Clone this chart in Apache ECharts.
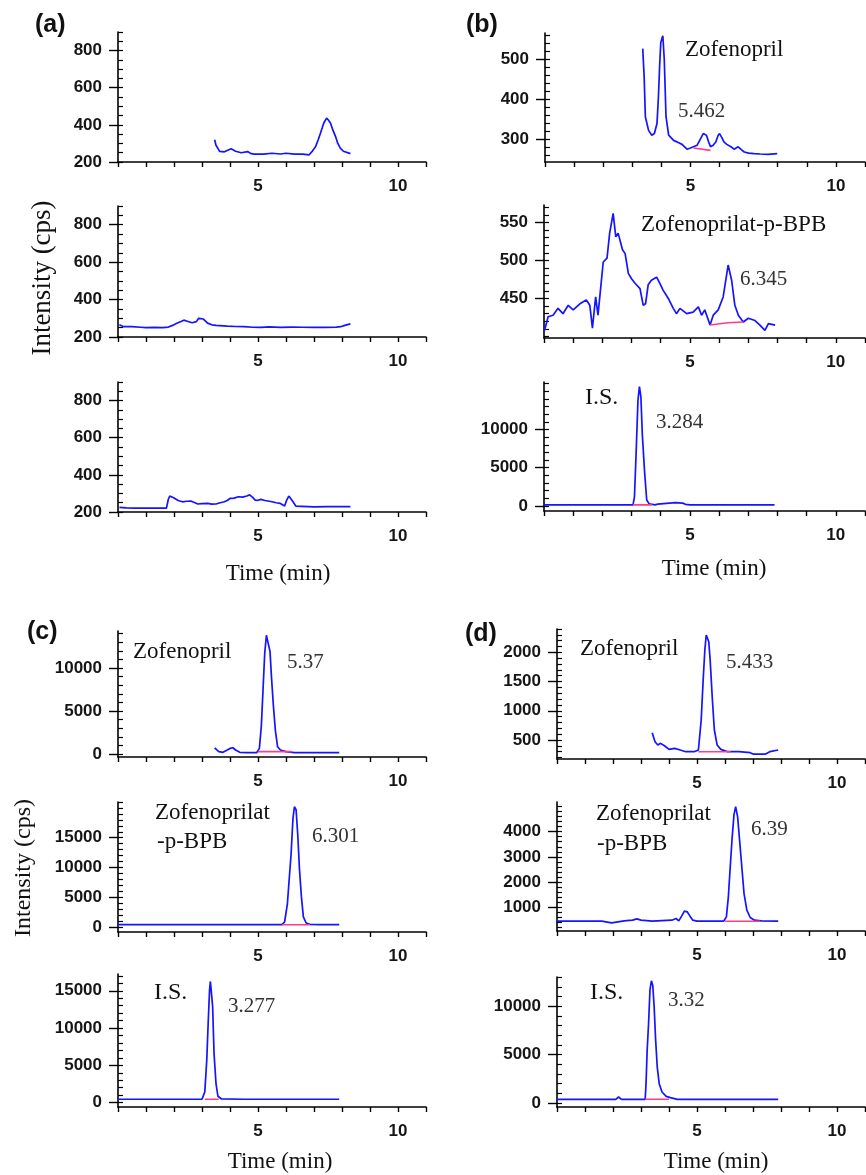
<!DOCTYPE html>
<html><head><meta charset="utf-8">
<script src="https://cdn.jsdelivr.net/npm/echarts@6/dist/echarts.min.js"></script>
<style>html,body{margin:0;padding:0;background:#fff}#c{width:866px;height:1175px}</style>
</head><body><div id="c"></div>
<script>
// ---------- data (time in min, intensity in cps) ----------
const X_LABELS = [5, 10];

const A_TICKS = [200, 400, 600, 800];
const B1_TICKS = [300, 400, 500];
const B2_TICKS = [450, 500, 550];
const B3_TICKS = [0, 5000, 10000];
const C1_TICKS = [0, 5000, 10000];
const C2_TICKS = [0, 5000, 10000, 15000];
const C3_TICKS = [0, 5000, 10000, 15000];
const D1_TICKS = [500, 1000, 1500, 2000];
const D2_TICKS = [1000, 2000, 3000, 4000];
const D3_TICKS = [0, 5000, 10000];

const a1Trace = [[3.45,320],[3.5,290],[3.63,257],[3.8,255],[4.04,271],[4.2,258],[4.4,250],[4.63,256],[4.75,245],[4.87,242],[5.2,242],[5.5,247],[5.8,243],[6.0,247],[6.3,242],[6.6,242],[6.82,238],[6.95,260],[7.06,284],[7.15,320],[7.23,355],[7.35,410],[7.45,436],[7.52,425],[7.59,409],[7.68,370],[7.77,337],[7.85,300],[7.94,275],[8.05,258],[8.12,252],[8.3,245]];
const a2Trace = [[0.05,265],[0.2,255],[0.5,255],[0.8,252],[1.0,250],[1.3,251],[1.6,250],[1.8,253],[1.95,262],[2.1,273],[2.25,283],[2.35,290],[2.5,283],[2.65,276],[2.8,282],[2.88,300],[2.95,305],[3.05,296],[3.2,274],[3.35,265],[3.5,262],[3.9,258],[4.2,256],[4.5,255],[4.8,252],[5.1,251],[5.4,254],[5.8,251],[6.2,253],[6.6,252],[7.0,251],[7.4,251],[7.8,253],[7.95,255],[8.1,262],[8.3,270]];
const a3Trace = [[0.05,225],[0.3,222],[0.6,221],[1.0,221],[1.4,221],[1.73,221],[1.8,270],[1.85,286],[2.0,275],[2.15,262],[2.3,255],[2.45,258],[2.6,259],[2.75,250],[2.85,243],[3.0,245],[3.2,246],[3.35,242],[3.5,243],[3.65,250],[3.8,255],[3.9,262],[4.0,273],[4.15,275],[4.3,282],[4.45,280],[4.6,286],[4.7,292],[4.8,280],[4.9,264],[5.0,263],[5.1,268],[5.25,262],[5.5,255],[5.65,250],[5.8,246],[5.95,232],[6.02,262],[6.1,286],[6.18,270],[6.25,255],[6.35,232],[6.4,229],[7.0,228],[7.5,229],[8.3,229]];

const b1Trace = [[3.36,527],[3.41,454],[3.45,357],[3.56,323],[3.67,311],[3.76,315],[3.85,340],[3.9,408],[3.94,483],[3.98,542],[4.05,559],[4.1,500],[4.16,357],[4.25,311],[4.42,298],[4.6,292],[4.71,288],[4.88,276],[5.0,279],[5.1,282],[5.23,286],[5.33,300],[5.44,315],[5.55,311],[5.62,295],[5.69,282],[5.78,286],[5.87,294],[5.95,310],[6.0,315],[6.08,305],[6.15,294],[6.25,288],[6.39,282],[6.5,276],[6.56,273],[6.64,282],[6.75,275],[6.85,269],[7.0,266],[7.19,265],[7.4,264],[7.66,263],[7.98,265]];
const b1Base = [[5.1,279],[5.69,273]];
const b2Trace = [[0.02,408],[0.14,426],[0.31,428],[0.48,437],[0.65,430],[0.83,441],[1.0,435],[1.23,443],[1.45,448],[1.57,441],[1.66,411],[1.77,452],[1.85,428],[1.91,430],[2.03,498],[2.16,503],[2.25,536],[2.37,562],[2.46,531],[2.54,536],[2.69,514],[2.78,509],[2.89,483],[3.0,476],[3.12,470],[3.29,463],[3.4,441],[3.48,443],[3.57,468],[3.68,474],[3.86,478],[3.97,470],[4.08,461],[4.26,450],[4.43,437],[4.54,430],[4.66,437],[4.89,430],[5.11,432],[5.29,439],[5.4,428],[5.51,435],[5.69,415],[5.8,428],[5.97,435],[6.14,452],[6.31,494],[6.43,474],[6.54,441],[6.66,428],[6.83,419],[7.0,424],[7.23,421],[7.4,415],[7.57,408],[7.69,417],[7.92,415]];
const b2Base = [[5.69,415],[6.3,418],[6.83,419]];
const b3Trace = [[0,150],[1.0,150],[2.0,150],[3.05,150],[3.1,1200],[3.15,6200],[3.22,13800],[3.27,15600],[3.32,14300],[3.37,9300],[3.45,4300],[3.52,780],[3.6,300],[3.8,150],[3.9,250],[3.95,435],[4.5,435],[4.75,380],[4.85,220],[5.0,150],[6.0,150],[7.0,150],[7.9,150]];
const b3Base = [[3.05,150],[3.7,150]];

const c1Trace = [[3.45,725],[3.6,270],[3.75,190],[3.9,460],[4.0,650],[4.1,725],[4.2,460],[4.35,190],[4.6,150],[4.95,150],[5.05,650],[5.12,3300],[5.18,7500],[5.24,11700],[5.3,13800],[5.37,13600],[5.43,11900],[5.48,9000],[5.55,5600],[5.62,2750],[5.7,840],[5.8,460],[6.0,270],[6.3,150],[7.0,150],[7.9,150]];
const c1Base = [[5.0,270],[6.2,270]];
const c2Trace = [[0,390],[2,390],[4,390],[5.85,390],[5.95,840],[6.05,3900],[6.12,8400],[6.18,12100],[6.25,18300],[6.3,20200],[6.36,19700],[6.42,15500],[6.48,9800],[6.55,5100],[6.62,1700],[6.72,670],[6.85,450],[7.2,390],[7.9,390]];
const c2Base = [[5.85,390],[6.85,390]];
const c3Trace = [[0,450],[1.6,450],[1.65,225],[1.7,450],[3.0,450],[3.1,1440],[3.17,5700],[3.22,10600],[3.27,15100],[3.3,16250],[3.34,16000],[3.38,12900],[3.43,6600],[3.5,2560],[3.57,850],[3.7,490],[4.5,450],[7.9,450]];
const c3Base = [[3.1,450],[3.6,450]];

const d1Trace = [[3.4,625],[3.5,471],[3.6,414],[3.7,443],[3.85,397],[4.0,340],[4.2,357],[4.4,329],[4.6,300],[4.9,300],[5.05,329],[5.15,842],[5.22,1527],[5.28,2040],[5.33,2297],[5.38,2314],[5.42,2183],[5.47,1870],[5.55,1185],[5.62,671],[5.72,414],[5.85,340],[6.1,300],[6.5,300],[6.9,283],[7.0,260],[7.45,260],[7.6,300],[7.9,329]];
const d1Base = [[5.05,300],[6.2,300]];
const d2Trace = [[0,458],[1.6,458],[1.65,392],[1.95,392],[2.0,432],[2.4,472],[2.7,498],[2.85,551],[3.0,498],[3.4,458],[4.1,498],[4.25,564],[4.35,472],[4.45,657],[4.55,855],[4.65,828],[4.75,657],[4.85,498],[5.0,458],[5.95,458],[6.05,630],[6.12,1420],[6.18,2480],[6.25,3670],[6.32,4660],[6.38,4990],[6.45,4590],[6.52,3670],[6.6,2610],[6.68,1550],[6.78,894],[6.9,604],[7.05,498],[7.3,472],[7.9,458]];
const d2Base = [[6.0,458],[7.25,458]];
const d3Trace = [[0,380],[2.1,380],[2.2,620],[2.3,380],[3.15,380],[3.18,2000],[3.22,5450],[3.27,8200],[3.32,11660],[3.37,12630],[3.42,12180],[3.47,9940],[3.52,6660],[3.58,3730],[3.65,2000],[3.75,1140],[3.9,690],[4.05,550],[4.3,380],[7.9,380]];
const d3Base = [[3.15,380],[4.0,380]];

// ---------- layout ----------
const panels = [
  {box:[118,32,308,130],  y:[200,900],   ticks:A_TICKS,  minor:50,   trace:a1Trace, base:null},
  {box:[118,206,308,131], y:[200,900],   ticks:A_TICKS,  minor:50,   trace:a2Trace, base:null},
  {box:[118,382,308,130], y:[200,900],   ticks:A_TICKS,  minor:50,   trace:a3Trace, base:null},
  {box:[545,33,320,129],  y:[244,566],   ticks:B1_TICKS, minor:20,   trace:b1Trace, base:b1Base},
  {box:[544,205,321,133], y:[398,573],   ticks:B2_TICKS, minor:10,   trace:b2Trace, base:b2Base},
  {box:[544,382,321,129], y:[-650,16200],ticks:B3_TICKS, minor:1000, trace:b3Trace, base:b3Base},
  {box:[118,631,308,126], y:[-350,14300],ticks:C1_TICKS, minor:1000, trace:c1Trace, base:c1Base},
  {box:[118,802,308,130], y:[-840,21000],ticks:C2_TICKS, minor:1000, trace:c2Trace, base:c2Base},
  {box:[118,974,308,133], y:[-590,17250],ticks:C3_TICKS, minor:1000, trace:c3Trace, base:c3Base},
  {box:[557,629,308,130], y:[175,2400],  ticks:D1_TICKS, minor:100,  trace:d1Trace, base:d1Base},
  {box:[557,802,308,129], y:[70,5170],   ticks:D2_TICKS, minor:200,  trace:d2Trace, base:d2Base},
  {box:[557,977,308,130], y:[-414,13030],ticks:D3_TICKS, minor:1000, trace:d3Trace, base:d3Base}
];

function minorValues(min, max, step) {
  const out = [];
  for (let v = Math.ceil(min / step) * step; v <= max; v += step) out.push(v);
  return out;
}

const AXIS = '#000';
const LABEL_FONT = {fontFamily:'Liberation Sans, Arial, sans-serif', fontWeight:'bold', fontSize:17, color:'#161616',
  formatter:function (v) { return String(v); }};
const grids = [], xAxes = [], yAxes = [], series = [];
panels.forEach((p, i) => {
  grids.push({left:p.box[0], top:p.box[1], width:p.box[2], height:p.box[3]});
  xAxes.push({type:'value', gridIndex:i, min:0, max:11, interval:1,
    axisLine:{onZero:false, lineStyle:{color:AXIS, width:1.6}},
    axisTick:{show:true, length:5, lineStyle:{color:AXIS, width:1.4}},
    axisLabel:Object.assign({customValues:X_LABELS, margin:16}, LABEL_FONT),
    splitLine:{show:false}});
  yAxes.push({type:'value', gridIndex:i, min:p.y[0], max:p.y[1],
    axisLine:{show:true, onZero:false, lineStyle:{color:AXIS, width:1.6}},
    axisTick:{show:true, customValues:p.ticks, length:9, lineStyle:{color:AXIS, width:1.4}},
    axisLabel:Object.assign({customValues:p.ticks, margin:16}, LABEL_FONT),
    splitLine:{show:false}});
  yAxes.push({type:'value', gridIndex:i, min:p.y[0], max:p.y[1],
    axisLine:{show:false},
    axisTick:{show:true, customValues:minorValues(p.y[0], p.y[1], p.minor), length:5, lineStyle:{color:AXIS, width:1.2}},
    axisLabel:{show:false}, splitLine:{show:false}});
  series.push({type:'line', xAxisIndex:i, yAxisIndex:2*i, data:p.trace, showSymbol:false,
    lineStyle:{color:'#1414ff', width:1.7}, z:3});
  if (p.base) series.push({type:'line', xAxisIndex:i, yAxisIndex:2*i, data:p.base, showSymbol:false,
    lineStyle:{color:'#ff3c8c', width:1.6}, z:4});
});

const SERIF = 'Liberation Serif, "Times New Roman", serif';
function txt(text, x, y, size, opts) {
  opts = opts || {};
  return {type:'text', x:x, y:y, rotation:opts.rot || 0, z:10,
    style:{text:text, font:(opts.bold ? 'bold ' : '') + size + 'px ' + (opts.sans ? 'Liberation Sans, Arial, sans-serif' : SERIF),
      fill:opts.fill || '#111', align:opts.align || 'left', verticalAlign:'middle'}};
}
const NUM = '#333';
const graphics = [
  txt('(a)', 35, 25, 25, {bold:true, sans:true}),
  txt('(b)', 466, 25, 25, {bold:true, sans:true}),
  txt('(c)', 27, 632, 25, {bold:true, sans:true}),
  txt('(d)', 465, 634, 25, {bold:true, sans:true}),
  txt('Intensity (cps)', 43, 278, 27, {rot:Math.PI/2, align:'center'}),
  txt('Intensity (cps)', 24, 868, 24, {rot:Math.PI/2, align:'center'}),
  txt('Time (min)', 278, 574, 23, {align:'center'}),
  txt('Time (min)', 714, 569, 23, {align:'center'}),
  txt('Time (min)', 280, 1162, 23, {align:'center'}),
  txt('Time (min)', 716, 1162, 23, {align:'center'}),
  txt('Zofenopril', 685, 50, 23),
  txt('5.462', 678, 111, 21, {fill:NUM}),
  txt('Zofenoprilat-p-BPB', 641, 225, 23),
  txt('6.345', 740, 279, 21, {fill:NUM}),
  txt('I.S.', 585, 398, 24),
  txt('3.284', 656, 422, 21, {fill:NUM}),
  txt('Zofenopril', 133, 652, 23),
  txt('5.37', 287, 662, 21, {fill:NUM}),
  txt('Zofenoprilat', 155, 813, 23),
  txt('-p-BPB', 157, 842, 23),
  txt('6.301', 312, 836, 21, {fill:NUM}),
  txt('I.S.', 154, 993, 24),
  txt('3.277', 228, 1006, 21, {fill:NUM}),
  txt('Zofenopril', 580, 649, 23),
  txt('5.433', 726, 662, 21, {fill:NUM}),
  txt('Zofenoprilat', 596, 814, 23),
  txt('-p-BPB', 597, 844, 23),
  txt('6.39', 751, 829, 21, {fill:NUM}),
  txt('I.S.', 590, 993, 24),
  txt('3.32', 668, 1000, 21, {fill:NUM})
];

const chart = echarts.init(document.getElementById('c'), null, {renderer:'canvas'});
chart.setOption({
  animation:false,
  backgroundColor:'#fff',
  grid:grids, xAxis:xAxes, yAxis:yAxes, series:series,
  graphic:graphics
});
</script></body></html>
